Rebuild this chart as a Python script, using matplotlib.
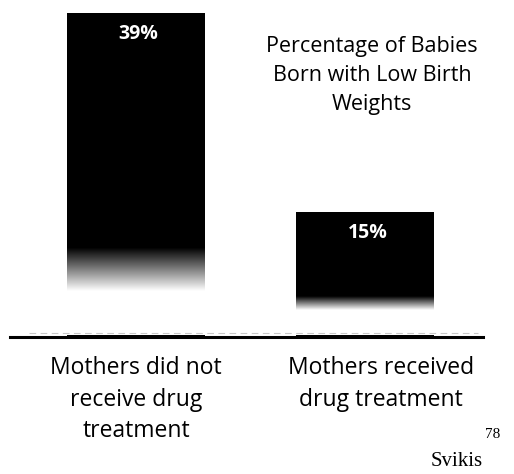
import numpy as np
import matplotlib
matplotlib.use("Agg")
import matplotlib.pyplot as plt

categories = ["Mothers did not\nreceive drug\ntreatment", "Mothers received\ndrug treatment"]
values = [39, 15]
value_labels = ["39%", "15%"]
title = "Percentage of Babies\nBorn with Low Birth\nWeights"
source = "Svikis"
source_ref = "78"

W, H = 514, 474
fig = plt.figure(figsize=(W / 100, H / 100), dpi=100)
fig.patch.set_facecolor("white")

ax = fig.add_axes([10 / W, (H - 337) / H, 473 / W, 337 / H])
ax.set_xlim(-0.55, 1.515)
ax.set_ylim(0, 40.55)

x = np.arange(len(values))
bars = ax.bar(x, values, width=0.6, color="black", zorder=2)

# fading lower part of each bar (white gradient)
fade = [(5.5, 10.7), (3.2, 4.8)]
for b, (lo, hi) in zip(bars, fade):
    x0 = b.get_x()
    x1 = x0 + b.get_width()
    ax.add_patch(plt.Rectangle((x0 - 0.01, 0.3), b.get_width() + 0.02, lo - 0.3,
                               color="white", zorder=3, lw=0))
    grad = np.linspace(0, 1, 64).reshape(-1, 1)
    rgba = np.ones((64, 1, 4))
    rgba[..., 3] = 1 - grad
    ax.imshow(rgba, extent=(x0 - 0.01, x1 + 0.01, lo, hi), origin="lower",
              aspect="auto", zorder=3, interpolation="bilinear")

for xi, v, lab in zip(x, values, value_labels):
    ax.text(xi + 0.01, v - 2.5, lab, color="white", ha="center", va="center",
            fontsize=14, fontweight="bold", family="Open Sans", zorder=4)

# faint speckle line just above baseline
ax.axhline(0.5, xmin=0.04, xmax=0.99, color="#c8c8c8", lw=0.8, ls=(0, (6, 4)), zorder=4)

for s in ["top", "right", "left"]:
    ax.spines[s].set_visible(False)
ax.spines["bottom"].set_linewidth(2.2)
ax.spines["bottom"].set_zorder(5)
ax.set_yticks([])
ax.set_xticks([])

label_dx = [0.0, 0.07]
for xi, dx, lab in zip(x, label_dx, categories):
    ax.annotate(lab, xy=(xi + dx, 0), xycoords=("data", "axes fraction"),
                xytext=(0, -14), textcoords="offset points",
                ha="center", va="top", fontsize=16.5, family="Open Sans",
                linespacing=1.4)

fig.text(372 / W, 1 - 36 / H, title, ha="center", va="top", fontsize=15.5,
         family="Open Sans", linespacing=1.5)
fig.text(483 / W, 1 - 471 / H, source, ha="right", va="bottom", fontsize=15,
         family="Liberation Serif")
fig.text(485 / W, 1 - 441 / H, source_ref, ha="left", va="bottom", fontsize=11,
         family="Liberation Serif")

fig.savefig("out.png", dpi=100, facecolor="white")
